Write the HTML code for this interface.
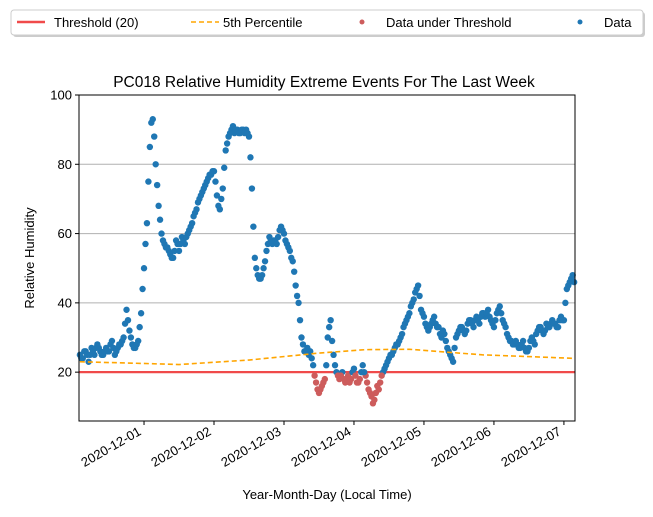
<!DOCTYPE html>
<html><head><meta charset="utf-8"><style>
body{margin:0;background:#fff;font-family:"Liberation Sans",sans-serif}
svg text{font-family:"Liberation Sans",sans-serif}
</style></head><body>
<svg id="chart" width="653" height="512" viewBox="0 0 653 512" xmlns="http://www.w3.org/2000/svg">
<rect width="653" height="512" fill="#fff"/>
<g id="legend">
<rect x="13" y="12" width="632" height="25" rx="3" fill="#999" opacity="0.5"/>
<rect x="11" y="10" width="632" height="25" rx="3" fill="#fff" stroke="#ccc"/>
<g><line x1="17" y1="22" x2="45" y2="22" stroke="#f04a4a" stroke-width="2.5"/><text x="54" y="27" font-size="13">Threshold (20)</text></g>
<g><line x1="191" y1="22" x2="219" y2="22" stroke="orange" stroke-width="1.6" stroke-dasharray="5,3"/><text x="223" y="27" font-size="13">5th Percentile</text></g>
<g><circle cx="362" cy="22" r="2.5" fill="#cd5c5c"/><text x="386" y="27" font-size="13">Data under Threshold</text></g>
<g><circle cx="580" cy="22" r="2.5" fill="#1f77b4"/><text x="604" y="27" font-size="13">Data</text></g>
</g>
<text x="324" y="87" font-size="15.5" text-anchor="middle">PC018 Relative Humidity Extreme Events For The Last Week</text>
<text transform="translate(34,258) rotate(-90)" font-size="13" text-anchor="middle">Relative Humidity</text>
<text x="327" y="499" font-size="13" text-anchor="middle">Year-Month-Day (Local Time)</text>
<g id="grid"></g><g id="marks"></g><g id="axes"></g>
</svg>
<script>
const yTicks=[20,40,60,80,100];
const xTickHours=[24,48,72,96,120,144,168];
const xTickLabels=["2020-12-01","2020-12-02","2020-12-03","2020-12-04","2020-12-05","2020-12-06","2020-12-07"];
const startHour=2;
const humidity=[25,24,26,23,27,25,28,26,25,27,
26,29,25,27,28,30,38,32,28,27,
29,37,50,63,85,93,80,68,60,57,
56,54,53,58,55,59,57,60,62,65,
67,70,72,74,76,77,78,71,67,73,
84,88,90,89,90,89,90,90,88,73,
53,48,47,50,55,59,57,58,59,62,
60,57,55,52,45,40,30,26,27,26,
22,17,14,16,18,30,35,25,20,18,
20,17,19,18,21,17,18,22,19,15,
13,12,16,17,20,22,24,25,27,28,
30,33,35,37,40,43,45,38,36,33,
33,35,34,33,30,31,27,25,23,30,
32,33,31,34,35,33,36,34,37,36,
38,35,33,37,39,35,33,30,29,28,
28,27,29,26,27,30,28,32,33,31,
34,33,35,34,33,36,35,44,46,48];
const humidityHalf=[24,26,25,25,26,27,27,25,26,26,
28,27,26,28,29,34,35,30,27,28,
33,44,57,75,92,88,74,64,58,56,
55,53,55,57,57,58,59,61,63,66,
69,71,73,75,77,78,75,68,70,79,
86,89,91,90,89,90,89,89,82,62,
50,47,48,52,57,58,58,57,61,61,
58,56,53,49,42,35,28,26,25,24,
19,15,15,17,22,33,29,22,19,19,
18,18,17,20,19,17,20,20,17,14,
11,14,15,19,21,23,25,26,28,29,
31,34,36,39,41,44,42,37,34,32,
34,36,33,31,32,29,26,24,27,31,
33,32,32,35,34,35,35,36,37,37,
36,34,35,38,37,34,31,29,28,29,
27,28,27,26,29,29,31,33,32,32,
33,34,34,33,35,35,40,45,47,46];
const pctHours=[2,20,36,60,84,100,115,140,171];
const pctValues=[23,22.6,22.2,23.5,25.5,26.5,26.6,25,24];
const threshold=20;
const L=79,R=575,T=95,B=421;
const xMin=1.7,xMax=171.8,yMin=5.9,yMax=100;
const X=h=>L+(h-xMin)/(xMax-xMin)*(R-L);
const Y=v=>B-(v-yMin)/(yMax-yMin)*(B-T);
const NS="http://www.w3.org/2000/svg";
function mk(t,a,p){const e=document.createElementNS(NS,t);for(const k in a)e.setAttribute(k,a[k]);p.appendChild(e);return e;}
const grid=document.getElementById('grid'),marks=document.getElementById('marks'),axes=document.getElementById('axes');
yTicks.forEach(v=>{
 const g=mk('line',{x1:L,x2:R,y1:Y(v),y2:Y(v),stroke:'#b0b0b0','stroke-width':1},grid);
 
 
 const t=mk('line',{x1:L-4,x2:L,y1:Y(v),y2:Y(v),stroke:'#000'},axes);
 
 
 const tx=mk('text',{x:L-7,y:Y(v)+4.5,'font-size':13,'text-anchor':'end'},axes);
 tx.textContent=v;
 
 
});
xTickHours.forEach((h,i)=>{
 const t=mk('line',{x1:X(h),x2:X(h),y1:B,y2:B+4,stroke:'#000'},axes);
 
 
 const tx=mk('text',{transform:`translate(${X(h)-2},${B+13}) rotate(-30)`,'font-size':13,'text-anchor':'end'},axes);
 tx.textContent=xTickLabels[i];
 
 
});
const th=mk('line',{x1:L,x2:R,y1:Y(threshold),y2:Y(threshold),stroke:'#f04a4a','stroke-width':2.2},marks);


function drawPoints(arr,offset){
 arr.forEach((v,i)=>{
  const c=mk('circle',{cx:X(startHour+offset+i),cy:Y(v),r:3.2,fill:v<threshold?'#cd5c5c':'#1f77b4'},marks);
  
  
 });
}
drawPoints(humidity,0);
drawPoints(humidityHalf,0.5);
const pl=mk('polyline',{points:pctHours.map((h,i)=>X(h)+','+Y(pctValues[i])).join(' '),fill:'none',stroke:'orange','stroke-width':1.6,'stroke-dasharray':'5,3'},marks);


const fr=mk('rect',{x:L,y:T,width:R-L,height:B-T,fill:'none',stroke:'#000','stroke-width':1},axes);


</script>
</body></html>
